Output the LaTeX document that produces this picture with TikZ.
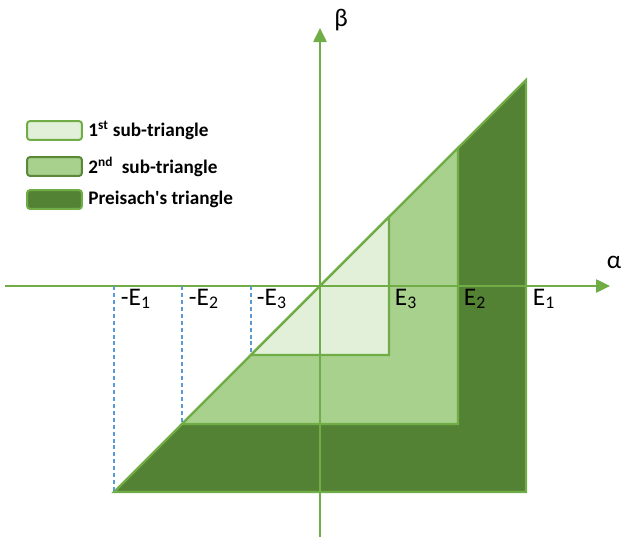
\documentclass[tikz,border=0pt]{standalone}
\usepackage{fontspec}
\setmainfont{Carlito}
\usetikzlibrary{
    arrows.meta,
    positioning
}
\definecolor{outlinegreen}{HTML}{70AD47}
\definecolor{darkfill}{HTML}{548235}
\definecolor{midfill}{HTML}{A9D18E}
\definecolor{lightfill}{HTML}{E2F0D9}
\definecolor{guideblue}{HTML}{5B9BD5}
\tikzset{
    % --- Triangle region (filled, green outline) ---
    region/.style = {
        draw=outlinegreen, line width=1.6pt, line join=miter
    },
    % --- Coordinate axis with filled triangle tip ---
    axis/.style = {
        draw=outlinegreen, line width=1.1pt,
        -{Triangle[length=10.5pt, width=10pt]}
    },
    % --- Dashed projection line ---
    guide/.style = {
        draw=guideblue, line width=0.95pt,
        dash pattern=on 3pt off 2.2pt
    },
    % --- Threshold label under the alpha axis ---
    axis label/.style = {
        font=\fontsize{19}{22}\selectfont,
        anchor=north west, inner sep=2pt
    },
    % --- Greek axis name ---
    axis name/.style = {
        font=\fontsize{19}{22}\selectfont, inner sep=0pt
    },
    % --- Legend swatch ---
    key box/.style = {
        rectangle, rounded corners=2pt, line width=1.5pt,
        minimum width=41pt, minimum height=14pt
    },
    % --- Legend text ---
    key text/.style = {
        font=\bfseries\fontsize{14.4}{16}\selectfont,
        inner sep=0pt, anchor=west
    }
}

\begin{document}
\begin{tikzpicture}[x=0.75pt, y=0.75pt]
\useasboundingbox (-320,-254) rectangle (301,286);

% ---------------------------------------------------------
% 1. Corner points of the three triangles
% ---------------------------------------------------------
\coordinate (BigA) at (-206,-206);
\coordinate (BigB) at (206,-206);
\coordinate (BigC) at (206,206);

\coordinate (MidA) at (-138,-138);
\coordinate (MidB) at (138,-138);
\coordinate (MidC) at (138,138);

\coordinate (SmallA) at (-69,-69);
\coordinate (SmallB) at (69,-69);
\coordinate (SmallC) at (69,69);

% ---------------------------------------------------------
% 2. Filled regions (largest first)
% ---------------------------------------------------------
\filldraw[region, fill=darkfill]  (BigA) -- (BigB) -- (BigC) -- cycle;
\filldraw[region, fill=midfill]   (MidA) -- (MidB) -- (MidC) -- cycle;
\filldraw[region, fill=lightfill] (SmallA) -- (SmallB) -- (SmallC) -- cycle;

% ---------------------------------------------------------
% 3. Axes
% ---------------------------------------------------------
\coordinate (AlphaStart) at (-315,0);
\coordinate (AlphaEnd)   at (290,0);
\coordinate (BetaStart)  at (0,-251);
\coordinate (BetaEnd)    at (0,258);

\draw[axis] (AlphaStart) -- (AlphaEnd);
\draw[axis] (BetaStart) -- (BetaEnd);

\node[axis name] (Alpha) at (294,24) {α};
\node[axis name] (Beta)  at (21,266) {β};

% ---------------------------------------------------------
% 4. Dashed projections of -E onto the diagonal
% ---------------------------------------------------------
\coordinate (NegE1) at (-206,0);
\coordinate (NegE2) at (-138,0);
\coordinate (NegE3) at (-69,0);

\draw[guide] (NegE1) -- (BigA);
\draw[guide] (NegE2) -- (MidA);
\draw[guide] (NegE3) -- (SmallA);

% ---------------------------------------------------------
% 5. Threshold labels
% ---------------------------------------------------------
\node[axis label] (LabNegE1) at (-202,0) {-E\textsubscript{1}};
\node[axis label] (LabNegE2) at (-134,0) {-E\textsubscript{2}};
\node[axis label] (LabNegE3) at (-66,0)  {-E\textsubscript{3}};
\node[axis label] (LabE3)    at (72,0)   {E\textsubscript{3}};
\node[axis label] (LabE2)    at (141,0)  {E\textsubscript{2}};
\node[axis label] (LabE1)    at (210,0)  {E\textsubscript{1}};

% ---------------------------------------------------------
% 6. Legend
% ---------------------------------------------------------
\node[key box, draw=outlinegreen, fill=lightfill] (KeyFirst)  at (-265.5,155.5) {};
\node[key box, draw=darkfill!85!outlinegreen, fill=midfill] (KeySecond) at (-265.5,119.5) {};
\node[key box, draw=outlinegreen, fill=darkfill] (KeyPreisach) at (-265.5,86.5) {};

\node[key text, right=4pt of KeyFirst]    (TextFirst)    {1\textsuperscript{st} sub-triangle};
\node[key text, right=4pt of KeySecond]   (TextSecond)   {2\textsuperscript{nd}\ \ sub-triangle};
\node[key text, right=4pt of KeyPreisach] (TextPreisach) {Preisach\textquotesingle s triangle};

\end{tikzpicture}
\end{document}
